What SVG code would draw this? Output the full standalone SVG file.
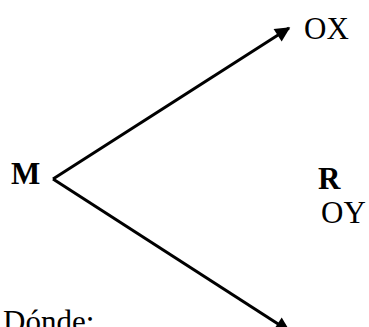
<svg xmlns="http://www.w3.org/2000/svg" width="369" height="327" viewBox="0 0 369 327">
<style>
.t{font-family:"Liberation Serif","Times New Roman",serif;fill:#000}
.b{font-weight:bold}
.c{stroke:#000;stroke-width:3;fill:none}
</style>
<defs>
<marker id="ah" viewBox="0 0 10 10" refX="9" refY="5" markerWidth="6" markerHeight="5" markerUnits="strokeWidth" orient="auto">
<path d="M0,0 L10,5 L0,10 z" fill="#000"/>
</marker>
</defs>
<rect width="369" height="327" fill="#fff"/>
<g id="connectors">
<line class="c" x1="53" y1="179" x2="289" y2="28" marker-end="url(#ah)"/>
<line class="c" x1="53" y1="179" x2="289" y2="331" marker-end="url(#ah)"/>
</g>
<g id="M"><text class="t b" x="11" y="184" font-size="31">M</text></g>
<g id="OX"><text class="t" x="304" y="39" font-size="31">OX</text></g>
<g id="R"><text class="t b" x="318" y="189" font-size="31">R</text></g>
<g id="OY"><text class="t" x="321" y="223" font-size="31">OY</text></g>
<g id="donde"><text class="t" x="3" y="332" font-size="31">Dónde:</text></g>
</svg>
